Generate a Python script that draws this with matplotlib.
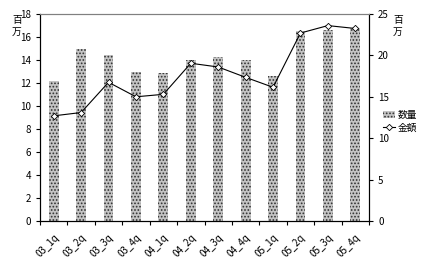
import matplotlib
matplotlib.use("Agg")
import matplotlib.pyplot as plt
import numpy as np

plt.rcParams['font.family'] = ['Noto Sans CJK JP', 'DejaVu Sans']
plt.rcParams['hatch.linewidth'] = 0.8

categories = ["03_1q", "03_2q", "03_3q", "03_4q", "04_1q", "04_2q", "04_3q",
              "04_4q", "05_1q", "05_2q", "05_3q", "05_4q"]
quantity = [12.2, 15.0, 14.4, 13.0, 12.9, 14.0, 14.3, 14.0, 12.6, 16.5, 16.6, 16.8]
amount = [12.7, 13.1, 16.75, 15.0, 15.3, 19.05, 18.6, 17.35, 16.15, 22.7, 23.6, 23.25]

fig = plt.figure(figsize=(4.37, 2.65), dpi=100)
ax = fig.add_axes([40/437, 1 - 221/265, 329/437, 207/265])
ax2 = ax.twinx()

x = np.arange(len(categories))
ax.bar(x, quantity, width=0.36, facecolor='#c4c4c4', edgecolor='#303030',
       hatch='.....', linewidth=0, label='数量', zorder=2)
ax2.plot(x, amount, color='black', lw=0.8, marker='D', markersize=3.2,
         markerfacecolor='white', markeredgecolor='black', markeredgewidth=0.6,
         label='金額', zorder=3)

ax.set_xlim(-0.5, len(categories) - 0.5)
ax.set_ylim(0, 18)
ax.set_yticks(range(0, 19, 2))
ax2.set_ylim(0, 25)
ax2.set_yticks(range(0, 26, 5))

ax.set_xticks(x)
ax.set_xticklabels(categories, rotation=45, ha='right', rotation_mode='anchor', fontsize=7)
ax.tick_params(axis='x', length=0, pad=8)
ax.set_xticks(np.arange(-0.5, len(categories), 1), minor=True)
ax.tick_params(axis='x', which='minor', length=3, direction='out', width=0.8)
ax.tick_params(axis='y', labelsize=7, length=3, width=0.8, direction='out')
ax2.tick_params(axis='y', labelsize=7, length=3, width=0.8, direction='out')

for a in (ax, ax2):
    a.spines['top'].set_color('#808080')
    a.spines['top'].set_linewidth(0.8)
    a.spines['left'].set_linewidth(0.8)
    a.spines['right'].set_linewidth(0.8)
    a.spines['bottom'].set_linewidth(0.8)

fig.text(17/437, 1 - 26/265, "百\n万", fontsize=7, ha='center', va='center', linespacing=1.2)
fig.text(398/437, 1 - 26/265, "百\n万", fontsize=7, ha='center', va='center', linespacing=1.2)

h1, l1 = ax.get_legend_handles_labels()
h2, l2 = ax2.get_legend_handles_labels()
fig.legend(h1 + h2, l1 + l2, loc='center left', bbox_to_anchor=(383/437, 1 - 121/265),
           frameon=False, fontsize=7, handlelength=1.2, handleheight=0.7,
           handletextpad=0.3, labelspacing=0.3, borderpad=0, borderaxespad=0)

fig.savefig("out.png", dpi=100)
